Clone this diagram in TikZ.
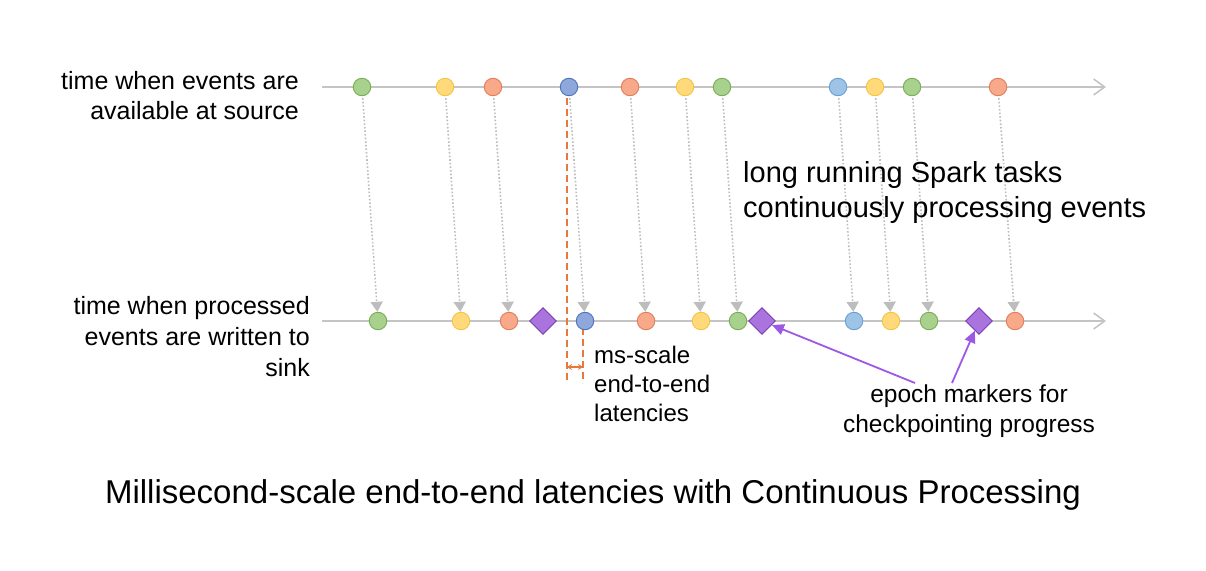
\documentclass[tikz,border=0pt]{standalone}
\usepackage{fontspec}
\setmainfont{Liberation Sans}
\usetikzlibrary{arrows.meta,shapes.geometric}
\definecolor{axisgray}{HTML}{C4C4C4}
\definecolor{flowgray}{HTML}{BDBDBD}
\definecolor{gfill}{HTML}{A9D18E}\definecolor{gdraw}{HTML}{77AD55}
\definecolor{yfill}{HTML}{FFD97A}\definecolor{ydraw}{HTML}{F5C342}
\definecolor{ofill}{HTML}{F7A98A}\definecolor{odraw}{HTML}{E27D5A}
\definecolor{bafill}{HTML}{8FA8DC}\definecolor{badraw}{HTML}{4D72C0}
\definecolor{bbfill}{HTML}{9DC3E6}\definecolor{bbdraw}{HTML}{6A9FD6}
\definecolor{pfill}{HTML}{A974DE}\definecolor{pdraw}{HTML}{7A3DB0}
\definecolor{parrow}{HTML}{9E58E6}
\definecolor{latorange}{HTML}{E8793A}
\begin{document}
\begin{tikzpicture}[x=1pt,y=-1pt,
  ev/.style={circle,minimum size=17.5pt,inner sep=0pt,line width=0.9pt},
  gc/.style={ev,fill=gfill,draw=gdraw},
  yc/.style={ev,fill=yfill,draw=ydraw},
  oc/.style={ev,fill=ofill,draw=odraw},
  bac/.style={ev,fill=bafill,draw=badraw},
  bbc/.style={ev,fill=bbfill,draw=bbdraw},
  epoch/.style={diamond,minimum width=27pt,minimum height=27pt,inner sep=0pt,fill=pfill,draw=pdraw,line width=0.9pt},
  axisline/.style={draw=axisgray,line width=2pt,-{Straight Barb[length=11pt,width=16pt,line width=1.6pt]}},
  flow/.style={draw=flowgray,line width=1.6pt,dash pattern=on 1.6pt off 2pt,shorten <=2pt,-{Triangle[length=10pt,width=12pt]}},
  latline/.style={draw=latorange,line width=1.8pt,dash pattern=on 7pt off 4pt},
  latarrow/.style={draw=latorange,line width=1.4pt,{Stealth[length=5pt,width=6pt]}-{Stealth[length=5pt,width=6pt]}},
  markarrow/.style={draw=parrow,line width=1.8pt,-{Triangle[length=12pt,width=11pt]}},
  lbl/.style={font=\fontsize{24.5}{30}\selectfont,inner sep=0pt}
]
\useasboundingbox (0,0) rectangle (1206,570);
% axes
\coordinate (tl) at (322,87); \coordinate (tr) at (1106,87);
\coordinate (bl) at (322,321); \coordinate (br) at (1106,321);
\draw[axisline] (tl) -- (tr);
\draw[axisline] (bl) -- (br);
% latency markers (behind nodes)
\coordinate (la1) at (567,98); \coordinate (la2) at (567,383);
\coordinate (lb1) at (583,328); \coordinate (lb2) at (583,383);
\coordinate (lc1) at (567,367); \coordinate (lc2) at (583,367);
\draw[latline] (la1) -- (la2);
\draw[latline] (lb1) -- (lb2);
\draw[latarrow] (lc1) -- (lc2);
% source events
\node[gc] (s1) at (362,87) {};
\node[yc] (s2) at (445,87) {};
\node[oc] (s3) at (493,87) {};
\node[bac] (s4) at (569,87) {};
\node[oc] (s5) at (630,87) {};
\node[yc] (s6) at (685,87) {};
\node[gc] (s7) at (722,87) {};
\node[bbc] (s8) at (838,87) {};
\node[yc] (s9) at (875,87) {};
\node[gc] (s10) at (912,87) {};
\node[oc] (s11) at (998,87) {};
% sink events
\node[gc] (k1) at (378,321) {};
\node[yc] (k2) at (461,321) {};
\node[oc] (k3) at (509,321) {};
\node[epoch] (d1) at (543,321) {};
\node[bac] (k4) at (585,321) {};
\node[oc] (k5) at (646,321) {};
\node[yc] (k6) at (701,321) {};
\node[gc] (k7) at (738,321) {};
\node[epoch] (d2) at (762,321) {};
\node[bbc] (k8) at (854,321) {};
\node[yc] (k9) at (891,321) {};
\node[gc] (k10) at (929,321) {};
\node[epoch] (d3) at (979,321) {};
\node[oc] (k11) at (1015,321) {};
% flows
\foreach \i in {1,...,11} {\draw[flow] (s\i) -- (k\i);}
% labels
\node[lbl,align=right,anchor=north east,font=\fontsize{25}{30}\selectfont] (srclbl) at (299,71) {time when events are\\available at source};
\node[lbl,align=right,anchor=north east,font=\fontsize{25}{31}\selectfont] (sinklbl) at (310,296) {time when processed\\events are written to\\sink};
\node[lbl,align=left,anchor=north west,font=\fontsize{29}{35}\selectfont] (tasklbl) at (743,161) {long running Spark tasks\\continuously processing events};
\node[lbl,align=left,anchor=north west,font=\fontsize{24}{29}\selectfont] (latlbl) at (594,346) {ms-scale\\end-to-end\\latencies};
\node[lbl,align=center,anchor=north] (epochlbl) at (969,385) {epoch markers for\\checkpointing progress};
\node[lbl,anchor=base,font=\fontsize{33}{38}\selectfont] (title) at (593,503) {Millisecond-scale end-to-end latencies with Continuous Processing};
% epoch marker arrows
\coordinate (m1) at (915,383); \coordinate (m2) at (952,383);
\draw[markarrow] (m1) -- (d2);
\draw[markarrow] (m2) -- (d3);
\end{tikzpicture}
\end{document}
